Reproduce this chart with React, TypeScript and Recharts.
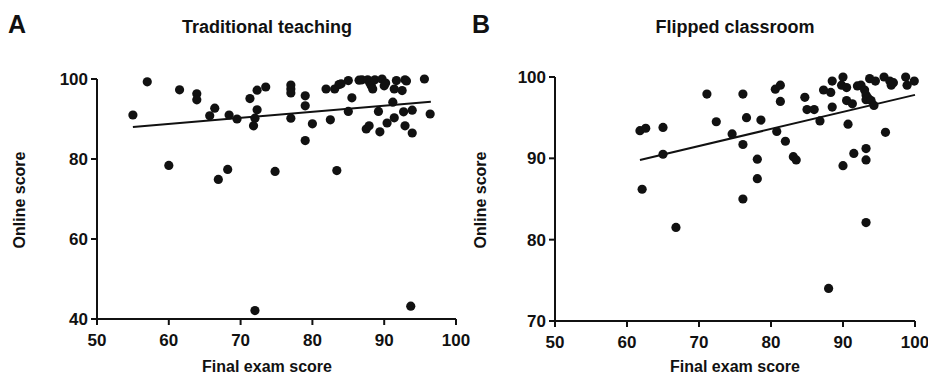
import React from 'react';
import { ScatterChart, Scatter, XAxis, YAxis, ReferenceLine } from 'recharts';

// Panel A: Traditional teaching (final exam score, online score)
const tradX = [55.0, 57.0, 60.0, 61.5, 63.9, 63.9, 65.7, 66.4, 66.9, 68.2, 68.4, 69.5, 71.3, 71.8, 72.0, 72.3, 72.3, 72.0, 73.5, 74.8, 77.0, 77.0, 77.0, 77.0, 79.0, 79.0, 79.0, 80.0, 81.9, 82.5, 83.1, 83.4, 83.7, 84.0, 85.0, 85.0, 85.5, 86.5, 86.9, 87.5, 87.9, 87.7, 88.0, 88.2, 88.4, 88.7, 89.2, 89.4, 89.7, 90.0, 90.2, 90.4, 91.2, 91.4, 91.4, 91.7, 92.5, 92.7, 92.9, 93.1, 92.9, 93.9, 93.9, 93.7, 95.6, 96.4];
const tradY = [91.0, 99.3, 78.4, 97.3, 96.3, 94.8, 90.8, 92.7, 74.9, 77.4, 91.0, 90.0, 95.1, 88.3, 90.2, 92.3, 97.2, 42.1, 98.0, 76.9, 98.5, 97.5, 96.5, 90.2, 95.8, 93.3, 84.6, 88.8, 97.5, 89.8, 97.5, 77.1, 98.6, 98.8, 99.6, 91.9, 95.3, 99.7, 99.8, 87.5, 88.3, 99.8, 99.0, 98.3, 97.5, 99.8, 91.9, 86.8, 100.0, 98.3, 99.0, 89.0, 94.2, 90.3, 97.5, 99.6, 97.1, 91.8, 99.8, 99.5, 88.3, 92.2, 86.5, 43.2, 100.0, 91.25];
const tradFitX = [55.0, 96.5];
const tradFitY = [88.0, 94.3];

// Panel B: Flipped classroom
const flipX = [61.8, 62.6, 62.1, 65.0, 65.0, 66.8, 71.1, 72.4, 74.6, 76.1, 76.1, 76.1, 76.6, 78.1, 78.1, 78.6, 80.6, 80.8, 81.3, 81.3, 82.0, 83.1, 83.5, 84.7, 85.0, 86.0, 86.8, 87.3, 88.0, 88.3, 88.5, 88.5, 90.0, 89.8, 90.0, 90.5, 90.5, 90.7, 91.3, 91.5, 92.0, 92.5, 93.0, 93.2, 93.2, 93.5, 93.2, 93.2, 93.2, 93.7, 93.9, 94.3, 94.5, 95.7, 95.9, 96.5, 96.7, 97.0, 98.7, 98.9, 99.9];
const flipY = [93.4, 93.7, 86.2, 93.8, 90.5, 81.5, 97.9, 94.5, 93.0, 97.9, 91.7, 85.0, 95.0, 89.9, 87.5, 94.7, 98.5, 93.3, 99.0, 97.0, 92.1, 90.2, 89.8, 97.5, 96.0, 96.0, 94.6, 98.4, 74.0, 98.1, 99.5, 96.3, 100.0, 99.0, 89.1, 98.7, 97.1, 94.2, 96.7, 90.6, 98.9, 99.0, 98.4, 97.8, 97.2, 97.4, 91.2, 89.8, 82.1, 99.8, 97.1, 96.5, 99.5, 100.0, 93.2, 99.5, 99.0, 99.3, 100.0, 99.0, 99.5];
const flipFitX = [61.8, 100];
const flipFitY = [89.8, 97.8];

const xTicks = [50, 60, 70, 80, 90, 100];
const tradYTicks = [40, 60, 80, 100];
const flipYTicks = [70, 80, 90, 100];

const FONT = '"Liberation Sans", Arial, Helvetica, sans-serif';
const INK = '#111';

const toPoints = (xs: number[], ys: number[]) => xs.map((x, i) => ({ x, y: ys[i] }));

const Dot = (p: any) => <circle cx={p.cx} cy={p.cy} r={4.6} fill={INK} />;

const tickStyle = { fill: INK, fontSize: 17, fontWeight: 700, fontFamily: FONT };

type PanelProps = {
  left: number;
  width: number;
  letter: string;
  title: string;
  xs: number[];
  ys: number[];
  fitX: number[];
  fitY: number[];
  yDomain: [number, number];
  yTicks: number[];
  margin: { top: number; right: number; bottom: number; left: number };
  titleX: number;
  yLabelX: number;
};

const Panel = (p: PanelProps) => {
  const data = toPoints(p.xs, p.ys);
  return (
    <div style={{ position: 'absolute', left: p.left, top: 0, width: p.width, height: 375 }}>
      <ScatterChart width={p.width} height={375} margin={p.margin} style={{ overflow: 'visible' }}>
        <XAxis
          type="number"
          dataKey="x"
          domain={[50, 100]}
          ticks={xTicks}
          height={30}
          axisLine={{ stroke: INK, strokeWidth: 2 }}
          tickLine={{ stroke: INK, strokeWidth: 2 }}
          tickSize={6}
          tickMargin={9}
          tick={tickStyle}
          interval={0}
        />
        <YAxis
          type="number"
          dataKey="y"
          domain={p.yDomain}
          ticks={p.yTicks}
          width={50}
          axisLine={{ stroke: INK, strokeWidth: 2 }}
          tickLine={{ stroke: INK, strokeWidth: 2 }}
          tickSize={6}
          tickMargin={3}
          tick={tickStyle}
          interval={0}
        />
        <ReferenceLine
          segment={[
            { x: p.fitX[0], y: p.fitY[0] },
            { x: p.fitX[1], y: p.fitY[1] },
          ]}
          stroke={INK}
          strokeWidth={2}
          ifOverflow="visible"
        />
        <Scatter data={data} shape={Dot} isAnimationActive={false} />
      </ScatterChart>
      <div style={{ position: 'absolute', left: 8, top: 9, fontFamily: FONT, fontWeight: 700, fontSize: 25, color: INK, lineHeight: '30px' }}>
        {p.letter}
      </div>
      <div style={{ position: 'absolute', left: p.titleX - 150, width: 300, top: 15, textAlign: 'center', fontFamily: FONT, fontWeight: 700, fontSize: 18, color: INK, lineHeight: '24px' }}>
        {p.title}
      </div>
      <div style={{ position: 'absolute', left: p.titleX - 150, width: 300, top: 357, textAlign: 'center', fontFamily: FONT, fontWeight: 700, fontSize: 16, color: INK, lineHeight: '20px' }}>
        Final exam score
      </div>
      <div
        style={{
          position: 'absolute',
          left: p.yLabelX - 75,
          top: 200 - 10,
          width: 150,
          textAlign: 'center',
          transform: 'rotate(-90deg)',
          fontFamily: FONT,
          fontWeight: 700,
          fontSize: 16,
          color: INK,
          lineHeight: '20px',
        }}
      >
        Online score
      </div>
    </div>
  );
};

export default function App() {
  return (
    <div style={{ position: 'absolute', left: 0, top: 0, width: 928, height: 375, background: '#fff', overflow: 'hidden' }}>
      <Panel
        left={464}
        width={464}
        letter="B"
        title="Flipped classroom"
        xs={flipX}
        ys={flipY}
        fitX={flipFitX}
        fitY={flipFitY}
        yDomain={[70, 100]}
        yTicks={flipYTicks}
        margin={{ top: 77, right: 13, bottom: 24, left: 41 }}
        titleX={271}
        yLabelX={17}
      />
      <Panel
        left={0}
        width={474}
        letter="A"
        title="Traditional teaching"
        xs={tradX}
        ys={tradY}
        fitX={tradFitX}
        fitY={tradFitY}
        yDomain={[40, 100]}
        yTicks={tradYTicks}
        margin={{ top: 79, right: 18, bottom: 26, left: 47 }}
        titleX={267}
        yLabelX={20}
      />
    </div>
  );
}
